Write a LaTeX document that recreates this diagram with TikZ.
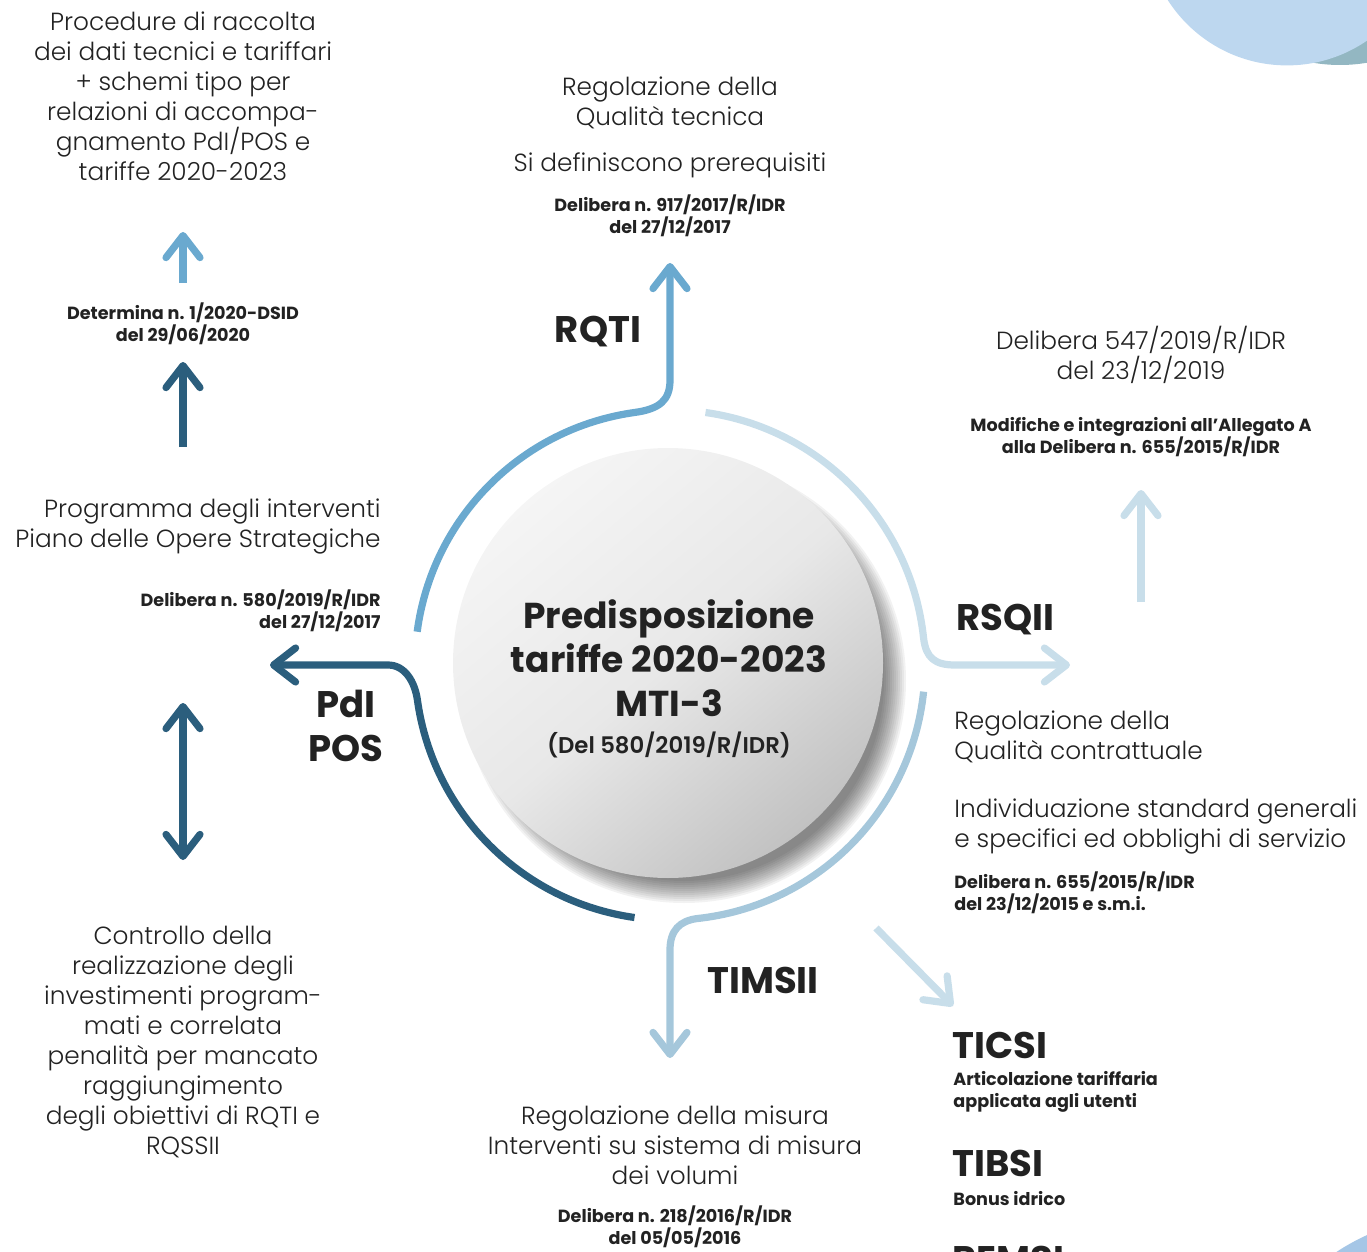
\documentclass[tikz,border=0pt]{standalone}
\usepackage{fontspec}
\setmainfont{Poppins}[UprightFont=* Light, BoldFont=* Bold]
\newfontfamily\semibold{Poppins SemiBold}
\usetikzlibrary{arrows.meta,calc}

\definecolor{txtcol}{HTML}{222222}
\definecolor{rqticol}{HTML}{6AA9CF}
\definecolor{rsqiicol}{HTML}{C8DEEA}
\definecolor{timsiicol}{HTML}{A5C7DB}
\definecolor{pdicol}{HTML}{2B5E7D}
\definecolor{decoblue}{HTML}{BDD7EF}
\definecolor{decoteal}{HTML}{93B7C2}
\definecolor{decolow}{HTML}{A5C6E6}

\tikzset{
  body/.style={font=\fontsize{12.4}{15}\selectfont, text=txtcol, align=center, inner sep=0pt},
  ref/.style={font=\bfseries\fontsize{8.8}{11}\selectfont, text=txtcol, align=center, inner sep=0pt},
  head/.style={font=\bfseries\fontsize{18.5}{22}\selectfont, text=txtcol, align=center, inner sep=0pt},
  flow/.style={line width=3.6pt, line cap=butt},
}

\begin{document}
\begin{tikzpicture}[x=0.5pt,y=0.5pt,>={Straight Barb[length=11pt,width=17pt,round]}]
\clip (0,0) rectangle (1367,-1252);

\fill[decoteal] (1340,95) circle[radius=80pt];
\fill[decoblue] (1287,76) circle[radius=70.7pt];
\fill[decolow] (1460,-1440) circle[radius=112.5pt];

\coordinate (ring) at (670,-665);

\foreach \k in {0,...,11}
  \fill[black,opacity=0.05] (684,-681) circle[radius={100pt+\k pt}];
\node[circle, minimum size=215pt, inner sep=0pt, top color=white!96!black, bottom color=black!24,
  middle color=white!91!black, shading angle=40] (core) at (668,-663) {};

\node[head, font=\bfseries\fontsize{18}{22}\selectfont] (title) at (669,-658) {Predisposizione\\tariffe 2020-2023\\MTI-3};
\node[head, font=\semibold\fontsize{11.4}{15}\selectfont] (titleref) at (669,-745) {(Del 580/2019/R/IDR)};

\node[body] (proc) at (183,-96) {Procedure di raccolta\\dei dati tecnici e tariffari\\+ schemi tipo per\\relazioni di accompa-\\gnamento PdI/POS e\\tariffe 2020-2023};
\node[ref] (det) at (183,-324) {Determina n. 1/2020-DSID\\del 29/06/2020};
\node[body] (rqtitxt) at (670,-103) {Regolazione della\\Qualità tecnica};
\node[body] (prereq) at (670,-165) {Si definiscono prerequisiti};
\node[ref] (rqtiref) at (670,-216) {Delibera n. 917/2017/R/IDR\\del 27/12/2017};
\node[head] (rqti) at (598,-332) {RQTI};
\node[body] (del547) at (1141,-355) {Delibera 547/2019/R/IDR\\del 23/12/2019};
\node[ref] (mod) at (1141,-437) {Modifiche e integrazioni all’Allegato A\\alla Delibera n. 655/2015/R/IDR};
\node[head, anchor=west] (rsqii) at (956,-620) {RSQII};
\node[body, anchor=west, align=left] (rsqiitxt) at (954,-737) {Regolazione della\\Qualità contrattuale};
\node[body, anchor=west, align=left] (std) at (954,-826) {Individuazione standard generali\\e specifici ed obblighi di servizio};
\node[ref, anchor=west, align=left] (rsqiiref) at (954,-893) {Delibera n. 655/2015/R/IDR\\del 23/12/2015 e s.m.i.};
\node[head, anchor=west] (ticsi) at (952,-1045) {TICSI};
\node[ref, anchor=west, align=left] (ticsitxt) at (953,-1092) {Articolazione tariffaria\\applicata agli utenti};
\node[head, anchor=west] (tibsi) at (952,-1163) {TIBSI};
\node[ref, anchor=west] (tibsitxt) at (953,-1199) {Bonus idrico};
\node[head, anchor=west] (remsi) at (952,-1259) {REMSI};
\node[head] (timsii) at (763,-980) {TIMSII};
\node[body] (timsiitxt) at (675,-1145) {Regolazione della misura\\Interventi su sistema di misura\\dei volumi};
\node[ref] (timsiiref) at (675,-1227) {Delibera n. 218/2016/R/IDR\\del 05/05/2016};
\node[body] (ctrl) at (183,-1042) {Controllo della\\realizzazione degli\\investimenti program-\\mati e correlata\\penalità per mancato\\raggiungimento\\degli obiettivi di RQTI e\\RQSSII};
\node[body, anchor=east, align=right] (pditxt) at (381,-526) {Programma degli interventi\\Piano delle Opere Strategiche};
\node[ref, anchor=east, align=right] (pdiref) at (381,-611) {Delibera n. 580/2019/R/IDR\\del 27/12/2017};
\node[head] (pdi) at (346,-726) {PdI\\POS};

\coordinate (rqtitip) at (670,-263);
\coordinate (rsqiitip) at (1070,-665);
\coordinate (timsiitip) at (670,-1058);
\coordinate (pditip) at (270,-665);
\coordinate (detlow) at (183,-447);
\coordinate (dethigh) at (183,-362);
\coordinate (proclow) at (183,-283);
\coordinate (prochigh) at (183,-232);
\coordinate (ctrlhigh) at (183,-703);
\coordinate (ctrllow) at (183,-860);
\coordinate (modlow) at (1141,-602);
\coordinate (modhigh) at (1141,-490);
\coordinate (ticsifrom) at (876,-928);
\coordinate (ticsito) at (953,-1006);

\draw[flow, rqticol, ->] ($(ring)+(172.5:127.5pt)$) arc[start angle=172.5, end angle=98, radius=127.5pt]
  .. controls (660,-409) and (670,-400) .. (670,-380) -- (rqtitip);
\draw[flow, rsqiicol, ->] ($(ring)+(82:127.5pt)$) arc[start angle=82, end angle=6, radius=127.5pt]
  .. controls (926,-658) and (935,-665) .. (955,-665) -- (rsqiitip);
\draw[flow, timsiicol, ->] ($(ring)+(-6:127.5pt)$) arc[start angle=-6, end angle=-84, radius=127.5pt]
  .. controls (680,-921) and (670,-930) .. (670,-950) -- (timsiitip);
\draw[flow, pdicol, ->] ($(ring)+(-98:127.5pt)$) arc[start angle=-98, end angle=-172, radius=127.5pt]
  .. controls (415,-682) and (405,-665) .. (388,-665) -- (pditip);

\draw[flow, pdicol, ->] (detlow) -- (dethigh);
\draw[flow, rqticol, ->] (proclow) -- (prochigh);
\draw[flow, pdicol, <->] (ctrlhigh) -- (ctrllow);
\draw[flow, rsqiicol, ->] (modlow) -- (modhigh);
\draw[flow, rsqiicol, ->] (ticsifrom) -- (ticsito);
\end{tikzpicture}
\end{document}
